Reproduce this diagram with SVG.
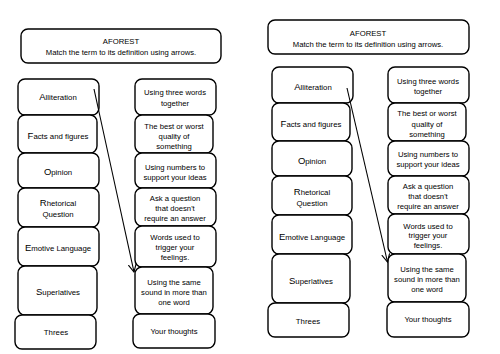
<svg xmlns="http://www.w3.org/2000/svg" width="500" height="354" viewBox="0 0 500 354">
<style>
rect.b{fill:#fff;stroke:#000;stroke-width:1.4}
text{font-family:"Liberation Sans",Arial,sans-serif;font-size:7.7px;fill:#000;text-anchor:middle}
text.t{font-size:7.8px}
tspan.c{font-size:9.5px}
.con line{stroke:#000;stroke-width:1.1;fill:none}
</style>
<defs>
<marker id="ah" markerWidth="10" markerHeight="10" refX="8" refY="4" orient="auto" markerUnits="userSpaceOnUse">
<polyline points="0,0 8,4 0,8" fill="none" stroke="#000" stroke-width="1.1"/>
</marker>
</defs>
<rect width="500" height="354" fill="#fff"/>

<!-- LEFT PANEL -->
<g id="L-title"><rect class="b" x="21" y="29" width="200" height="34" rx="7"/>
<text x="121" y="44">AFOREST</text><text x="121" y="55">Match the term to its definition using arrows.</text></g>

<g id="L-alliteration"><rect class="b" x="18" y="79" width="81" height="36" rx="7"/><text class="t" x="58" y="100"><tspan class="c">A</tspan>lliteration</text></g>
<g id="L-facts"><rect class="b" x="18" y="115" width="79" height="38" rx="7"/><text class="t" x="58" y="139"><tspan class="c">F</tspan>acts and figures</text></g>
<g id="L-opinion"><rect class="b" x="18" y="153" width="81" height="35" rx="7"/><text class="t" x="58" y="175"><tspan class="c">O</tspan>pinion</text></g>
<g id="L-rhetorical"><rect class="b" x="18" y="188" width="81" height="39" rx="7"/><text class="t" x="58" y="206"><tspan class="c">R</tspan>hetorical</text><text class="t" x="58" y="217">Question</text></g>
<g id="L-emotive"><rect class="b" x="18" y="227" width="81" height="39" rx="7"/><text class="t" x="58" y="251"><tspan class="c">E</tspan>motive Language</text></g>
<g id="L-superlatives"><rect class="b" x="18" y="266" width="79" height="49" rx="7"/><text class="t" x="58" y="295"><tspan class="c">S</tspan>uperlatives</text></g>
<g id="L-threes"><rect class="b" x="15" y="315" width="81" height="34" rx="7"/><text class="t" x="56" y="335">Threes</text></g>

<g id="L-def-three"><rect class="b" x="135" y="79" width="81" height="36" rx="7"/><text x="175" y="94.5">Using three words</text><text x="175" y="105.5">together</text></g>
<g id="L-def-best"><rect class="b" x="135" y="115" width="78" height="38" rx="7"/><text x="174" y="128.5">The best or worst</text><text x="174" y="138.5">quality of</text><text x="174" y="148.5">something</text></g>
<g id="L-def-numbers"><rect class="b" x="135" y="153" width="81" height="35" rx="7"/><text x="175" y="169.5">Using numbers to</text><text x="175" y="179.5">support your ideas</text></g>
<g id="L-def-question"><rect class="b" x="135" y="188" width="81" height="38" rx="7"/><text x="175" y="200.5">Ask a question</text><text x="175" y="210.5">that doesn't</text><text x="175" y="220.5">require an answer</text></g>
<g id="L-def-words"><rect class="b" x="135" y="226" width="81" height="41" rx="7"/><text x="175" y="239.5">Words used to</text><text x="175" y="249.5">trigger your</text><text x="175" y="259.5">feelings.</text></g>
<g id="L-def-sound"><rect class="b" x="135" y="267" width="78" height="47" rx="7"/><text x="174" y="284.5">Using the same</text><text x="174" y="294.5">sound in more than</text><text x="174" y="304.5">one word</text></g>
<g id="L-def-thoughts"><rect class="b" x="133" y="314" width="82" height="34" rx="7"/><text x="174" y="333.5">Your thoughts</text></g>

<!-- RIGHT PANEL -->
<g id="R-title"><rect class="b" x="268" y="20" width="201" height="34" rx="7"/>
<text x="368" y="35.5">AFOREST</text><text x="368" y="46.5">Match the term to its definition using arrows.</text></g>

<g id="R-alliteration"><rect class="b" x="272" y="67" width="81" height="36" rx="7"/><text class="t" x="313" y="90"><tspan class="c">A</tspan>lliteration</text></g>
<g id="R-facts"><rect class="b" x="272" y="103" width="78" height="38" rx="7"/><text class="t" x="311" y="127"><tspan class="c">F</tspan>acts and figures</text></g>
<g id="R-opinion"><rect class="b" x="272" y="141" width="80" height="35" rx="7"/><text class="t" x="312" y="164"><tspan class="c">O</tspan>pinion</text></g>
<g id="R-rhetorical"><rect class="b" x="272" y="176" width="80" height="39" rx="7"/><text class="t" x="312" y="194.5"><tspan class="c">R</tspan>hetorical</text><text class="t" x="312" y="205.5">Question</text></g>
<g id="R-emotive"><rect class="b" x="272" y="215" width="80" height="39" rx="7"/><text class="t" x="312" y="240"><tspan class="c">E</tspan>motive Language</text></g>
<g id="R-superlatives"><rect class="b" x="272" y="254" width="78" height="49" rx="7"/><text class="t" x="311" y="284"><tspan class="c">S</tspan>uperlatives</text></g>
<g id="R-threes"><rect class="b" x="268" y="303" width="81" height="34" rx="7"/><text class="t" x="308" y="324">Threes</text></g>

<g id="R-def-three"><rect class="b" x="388" y="67" width="81" height="36" rx="7"/><text x="428" y="83.5">Using three words</text><text x="428" y="93.5">together</text></g>
<g id="R-def-best"><rect class="b" x="388" y="103" width="78" height="38" rx="7"/><text x="427" y="115.5">The best or worst</text><text x="427" y="126.5">quality of</text><text x="427" y="136.5">something</text></g>
<g id="R-def-numbers"><rect class="b" x="388" y="141" width="81" height="35" rx="7"/><text x="428" y="156.5">Using numbers to</text><text x="428" y="166.5">support your ideas</text></g>
<g id="R-def-question"><rect class="b" x="388" y="176" width="81" height="38" rx="7"/><text x="428" y="188.5">Ask a question</text><text x="428" y="198.5">that doesn't</text><text x="428" y="208.5">require an answer</text></g>
<g id="R-def-words"><rect class="b" x="388" y="214" width="81" height="40" rx="7"/><text x="428" y="228.5">Words used to</text><text x="428" y="237.5">trigger your</text><text x="428" y="247.5">feelings.</text></g>
<g id="R-def-sound"><rect class="b" x="388" y="254" width="78" height="48" rx="7"/><text x="427" y="271.5">Using the same</text><text x="427" y="281.5">sound in more than</text><text x="427" y="291.5">one word</text></g>
<g id="R-def-thoughts"><rect class="b" x="387" y="302" width="82" height="35" rx="7"/><text x="428" y="321.5">Your thoughts</text></g>

<g id="connectors" class="con">
<line x1="94" y1="89" x2="134" y2="272" marker-end="url(#ah)"/>
<line x1="347" y1="88" x2="387.5" y2="262" marker-end="url(#ah)"/>
</g>
</svg>
